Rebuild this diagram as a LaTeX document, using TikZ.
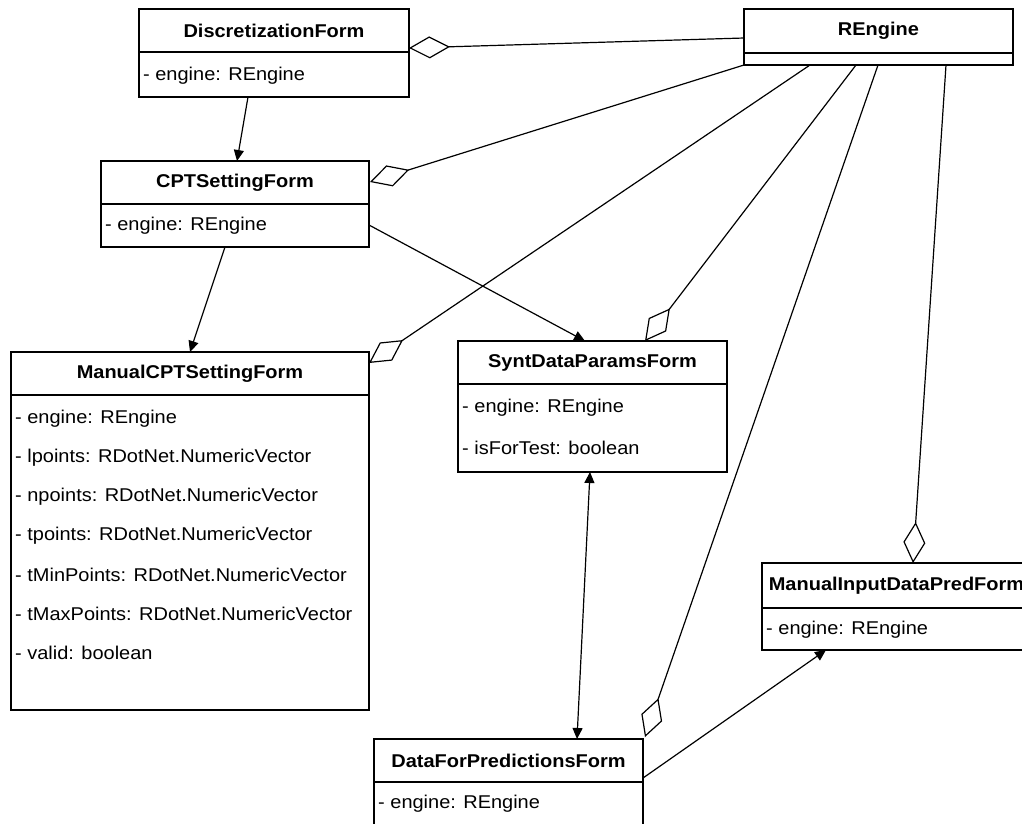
\documentclass[tikz,border=0pt]{standalone}
\usepackage{fontspec}
\setmainfont{Liberation Sans}[FakeStretch=1.08]
\usetikzlibrary{arrows.meta,calc}
\tikzset{
  box/.style={draw, line width=1.2pt, inner sep=0pt, outer sep=0pt, anchor=north west},
  hdr/.style={box, font=\fontsize{18.5}{22}\selectfont\bfseries},
  bodybox/.style={box},
  attr/.style={anchor=west, inner sep=0pt, font=\fontsize{18.5}{22}\selectfont},
  conn/.style={line width=1.2pt},
  arr/.style={conn, -{Triangle[length=11pt, width=10pt]}},
  darr/.style={conn, {Triangle[length=11pt, width=10pt]}-{Triangle[length=11pt, width=10pt]}},
  agg/.style={conn, -{Diamond[fill=white, length=41pt, width=22pt]}}
}
\begin{document}
\begin{tikzpicture}[x=1pt,y=-1pt]
\useasboundingbox (0,0) rectangle (1022,823);
\fill[white] (0,0) rectangle (1022,823);
\clip (0,0) rectangle (1022,823);

% DiscretizationForm
\node[hdr, minimum width=270pt, minimum height=43pt] (dfH) at (139,9) {DiscretizationForm};
\node[bodybox, minimum width=270pt, minimum height=45pt] (dfB) at (139,52) {};
\node[attr] (df1) at (143,76) {- engine: REngine};

% REngine
\node[hdr, minimum width=269pt, minimum height=44pt] (reH) at (744,9) {REngine};
\node[bodybox, minimum width=269pt, minimum height=12pt] (reB) at (744,53) {};

% CPTSettingForm
\node[hdr, minimum width=268pt, minimum height=43pt] (cptH) at (101,161) {CPTSettingForm};
\node[bodybox, minimum width=268pt, minimum height=43pt] (cptB) at (101,204) {};
\node[attr] (cpt1) at (105,226) {- engine: REngine};

% ManualCPTSettingForm
\node[hdr, minimum width=358pt, minimum height=43pt] (mcH) at (11,352) {ManualCPTSettingForm};
\node[bodybox, minimum width=358pt, minimum height=315pt] (mcB) at (11,395) {};
\node[attr] (mc1) at (15,419) {- engine: REngine};
\node[attr] (mc2) at (15,458) {- lpoints: RDotNet.NumericVector};
\node[attr] (mc3) at (15,497) {- npoints: RDotNet.NumericVector};
\node[attr] (mc4) at (15,536) {- tpoints: RDotNet.NumericVector};
\node[attr] (mc5) at (15,575) {- tMinPoints: RDotNet.NumericVector};
\node[attr] (mc6) at (15,614) {- tMaxPoints: RDotNet.NumericVector};
\node[attr] (mc7) at (15,653) {- valid: boolean};

% SyntDataParamsForm
\node[hdr, minimum width=269pt, minimum height=43pt] (sdH) at (458,341) {SyntDataParamsForm};
\node[bodybox, minimum width=269pt, minimum height=88pt] (sdB) at (458,384) {};
\node[attr] (sd1) at (462,408) {- engine: REngine};
\node[attr] (sd2) at (462,448) {- isForTest: boolean};

% ManualInputDataPredForm
\node[hdr, minimum width=269pt, minimum height=45pt] (miH) at (762,563) {ManualInputDataPredForm};
\node[bodybox, minimum width=269pt, minimum height=42pt] (miB) at (762,608) {};
\node[attr] (mi1) at (766,630) {- engine: REngine};

% DataForPredictionsForm
\node[hdr, minimum width=269pt, minimum height=43pt] (dpH) at (374,739) {DataForPredictionsForm};
\node[bodybox, minimum width=269pt, minimum height=100pt] (dpB) at (374,782) {};
\node[attr] (dp1) at (378,804) {- engine: REngine};

% directed associations
\draw[arr] ($(dfB.south west)+(109,0)$) -- ($(cptH.north west)+(136,0)$);
\draw[arr] ($(cptB.south west)+(124,0)$) -- ($(mcH.north west)+(179,0)$);
\draw[arr] ($(cptB.north east)+(0,21)$) -- ($(sdH.north west)+(127,0)$);
\draw[darr] ($(sdB.south west)+(132,0)$) -- ($(dpH.north west)+(203,0)$);
\draw[arr] ($(dpB.north east)+(0,-4)$) -- ($(miB.south west)+(64,0)$);

% aggregations with REngine
\draw[agg] ($(reH.north west)+(0,29)$) -- ($(dfH.north east)+(0,39)$);
\draw[agg] (reB.south west) -- ($(cptH.north east)+(1,21)$);
\draw[agg] ($(reB.south west)+(66,0)$) -- ($(mcH.north east)+(0,11)$);
\draw[agg] ($(reB.south west)+(112,0)$) -- ($(sdH.north west)+(187,0)$);
\draw[agg] ($(reB.south west)+(134,0)$) -- ($(dpH.north east)+(2,-2)$);
\draw[agg] ($(reB.south west)+(202,0)$) -- ($(miH.north west)+(151,0)$);
\end{tikzpicture}
\end{document}
